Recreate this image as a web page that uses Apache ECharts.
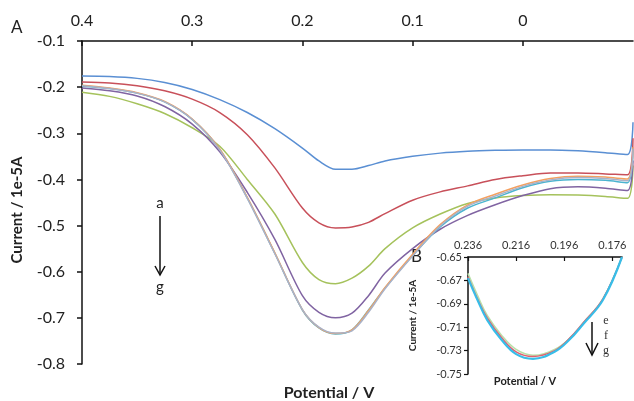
<!DOCTYPE html>
<html>
<head>
<meta charset="utf-8">
<script src="https://cdn.jsdelivr.net/npm/echarts@6/dist/echarts.min.js"></script>
<style>
  html, body { margin: 0; padding: 0; background: #fff; }
  #main { width: 634px; height: 401px; }
</style>
</head>
<body>
<div id="main"></div>
<script>
// main panel A: potential (V) vs current (1e-5 A), curves a..g
var potential = [0.4, 0.375, 0.35, 0.325, 0.3, 0.275, 0.25, 0.225, 0.2, 0.185, 0.17, 0.155, 0.14, 0.125, 0.1, 0.075, 0.05, 0.025, 0, -0.025, -0.05, -0.075, -0.095, -0.1];
var curveA = [-0.176, -0.177, -0.181, -0.190, -0.205, -0.227, -0.255, -0.290, -0.332, -0.360, -0.378, -0.378, -0.370, -0.360, -0.350, -0.343, -0.339, -0.337, -0.336, -0.336, -0.338, -0.342, -0.346, -0.276];
var curveB = [-0.189, -0.191, -0.197, -0.208, -0.226, -0.255, -0.303, -0.375, -0.462, -0.494, -0.505, -0.503, -0.493, -0.474, -0.445, -0.427, -0.414, -0.400, -0.392, -0.386, -0.386, -0.388, -0.390, -0.311];
var curveC = [-0.211, -0.220, -0.236, -0.257, -0.288, -0.328, -0.400, -0.475, -0.580, -0.617, -0.626, -0.614, -0.588, -0.550, -0.505, -0.475, -0.452, -0.440, -0.435, -0.433, -0.434, -0.437, -0.441, -0.370];
var curveD = [-0.202, -0.208, -0.219, -0.242, -0.280, -0.340, -0.428, -0.530, -0.652, -0.688, -0.700, -0.690, -0.652, -0.603, -0.550, -0.508, -0.478, -0.455, -0.435, -0.420, -0.416, -0.419, -0.424, -0.359];
var curveE = [-0.198, -0.203, -0.213, -0.232, -0.270, -0.335, -0.440, -0.560, -0.683, -0.722, -0.735, -0.726, -0.683, -0.635, -0.565, -0.503, -0.462, -0.440, -0.418, -0.404, -0.400, -0.402, -0.407, -0.335];
var curveF = [-0.196, -0.202, -0.212, -0.231, -0.269, -0.334, -0.439, -0.559, -0.682, -0.721, -0.734, -0.726, -0.684, -0.634, -0.562, -0.498, -0.455, -0.432, -0.412, -0.398, -0.393, -0.395, -0.399, -0.330];
var curveG = [-0.197, -0.203, -0.213, -0.232, -0.270, -0.336, -0.441, -0.561, -0.682, -0.720, -0.733, -0.728, -0.688, -0.637, -0.566, -0.501, -0.458, -0.436, -0.415, -0.401, -0.396, -0.398, -0.403, -0.333];

var mainNames = ['a', 'b', 'c', 'd', 'e', 'f', 'g'];
var mainCurves = [curveA, curveB, curveC, curveD, curveE, curveF, curveG];
var mainColors = ['#5a8fd3', '#c8505a', '#a5c25c', '#8064a2', '#4bb4d0', '#f4a060', '#a9b2c8'];

// inset B: zoom of the peak for e, f, g
var insetPotential = [0.236, 0.232, 0.228, 0.222, 0.216, 0.209, 0.2, 0.194, 0.188, 0.18, 0.172];
var insetE = [-0.664, -0.683, -0.700, -0.717, -0.729, -0.734, -0.729, -0.720, -0.706, -0.686, -0.650];
var insetF = [-0.667, -0.686, -0.702, -0.719, -0.731, -0.735, -0.730, -0.720, -0.706, -0.686, -0.650];
var insetG = [-0.668, -0.687, -0.704, -0.721, -0.733, -0.737, -0.731, -0.721, -0.707, -0.687, -0.650];
var insetXTicks = [0.176, 0.196, 0.216, 0.236];
var insetYTicks = [-0.75, -0.73, -0.71, -0.69, -0.67, -0.65];
var insetCurves = [insetE, insetF, insetG];
var insetColors = ['#b8e0a8', '#e06070', '#38bde8'];

function pairs(xs, ys) {
    return xs.map(function (x, i) { return [x, ys[i]]; });
}

var font = 'Lato, "Open Sans", sans-serif';
var series = [];
mainCurves.forEach(function (c, i) {
    series.push({
        name: mainNames[i], type: 'line', xAxisIndex: 0, yAxisIndex: 0,
        data: pairs(potential, c), showSymbol: false, smooth: 0.3,
        lineStyle: { color: mainColors[i], width: 1.5 }, z: 2 + i
    });
});
insetCurves.forEach(function (c, i) {
    series.push({
        type: 'line', xAxisIndex: 1, yAxisIndex: 1,
        data: pairs(insetPotential, c), showSymbol: false, smooth: 0.4,
        lineStyle: { color: insetColors[i], width: i === 2 ? 2.2 : 1.5 }, z: 10 + i
    });
});

var axisLine = { show: true, onZero: false, lineStyle: { color: '#111', width: 1.5 } };

var option = {
    animation: false,
    backgroundColor: '#fff',
    grid: [
        { left: 82, top: 41, width: 551, height: 323 },
        { left: 468, top: 257, width: 154, height: 117 }
    ],
    xAxis: [{
        type: 'value', gridIndex: 0, position: 'top', inverse: true,
        min: -0.1, max: 0.4, interval: 0.1,
        axisLine: axisLine,
        axisTick: { inside: true, length: 5, lineStyle: { color: '#111', width: 1.5 } },
        axisLabel: { showMinLabel: false, margin: 12, fontSize: 16, color: '#222', fontFamily: font,
            formatter: function (v) { return +v.toFixed(1) + ''; } },
        splitLine: { show: false }
    }, {
        type: 'value', gridIndex: 1, position: 'top', inverse: true,
        min: 0.172, max: 0.236,
        axisLine: axisLine,
        axisTick: { inside: true, length: 4, customValues: insetXTicks, lineStyle: { color: '#111', width: 1.2 } },
        axisLabel: { customValues: insetXTicks, margin: 6, fontSize: 11, color: '#333', fontFamily: font,
            formatter: function (v) { return v.toFixed(3); } },
        splitLine: { show: false }
    }],
    yAxis: [{
        type: 'value', gridIndex: 0, min: -0.8, max: -0.1, interval: 0.1,
        axisLine: axisLine,
        axisTick: { show: true, length: 5, lineStyle: { color: '#111', width: 1.5 } },
        axisLabel: { margin: 17, fontSize: 16, color: '#222', fontFamily: font,
            formatter: function (v) { return v.toFixed(1); } },
        splitLine: { show: false }
    }, {
        type: 'value', gridIndex: 1, min: -0.75, max: -0.65,
        axisLine: axisLine,
        axisTick: { show: true, length: 4, customValues: insetYTicks, lineStyle: { color: '#111', width: 1.2 } },
        axisLabel: { customValues: insetYTicks, margin: 6, fontSize: 11, color: '#333', fontFamily: font,
            formatter: function (v) { return v.toFixed(2); } },
        splitLine: { show: false },
        name: 'Current / 1e-5A', nameLocation: 'middle', nameGap: 50, nameRotate: 90,
        nameTextStyle: { fontSize: 10, fontWeight: 'bold', color: '#222', fontFamily: font }
    }],
    graphic: [
        { type: 'text', left: 11, top: 19, style: { text: 'A', fontSize: 17, fill: '#222', fontFamily: font } },
        { type: 'text', left: 411, top: 248, style: { text: 'B', fontSize: 17, fill: '#222', fontFamily: font } },
        { type: 'text', x: 17, y: 210, rotation: Math.PI / 2, style: { text: 'Current / 1e-5A', fontSize: 15, fontWeight: 'bold', fill: '#222', fontFamily: font, align: 'center', verticalAlign: 'middle' } },
        { type: 'text', x: 329, y: 393, style: { text: 'Potential / V', fontSize: 16, fontWeight: 'bold', fill: '#222', fontFamily: font, align: 'center', verticalAlign: 'middle' } },
        { type: 'text', x: 525, y: 381, style: { text: 'Potential / V', fontSize: 11, fontWeight: 'bold', fill: '#222', fontFamily: font, align: 'center', verticalAlign: 'middle' } },
        // a -> g arrow in panel A
        { type: 'text', x: 160, y: 203, style: { text: 'a', fontSize: 15, fill: '#222', fontFamily: font, align: 'center', verticalAlign: 'middle' } },
        { type: 'line', shape: { x1: 160, y1: 216, x2: 160, y2: 275 }, style: { stroke: '#111', lineWidth: 1.5 } },
        { type: 'polyline', shape: { points: [[155, 266], [160, 275], [165, 266]] }, style: { stroke: '#111', lineWidth: 1.5, fill: null } },
        { type: 'text', x: 160, y: 287, style: { text: 'g', fontSize: 15, fill: '#222', fontFamily: font, align: 'center', verticalAlign: 'middle' } },
        // e -> g arrow in inset
        { type: 'line', shape: { x1: 592, y1: 322, x2: 592, y2: 355 }, style: { stroke: '#111', lineWidth: 1.5 } },
        { type: 'polyline', shape: { points: [[586, 343], [592, 355], [598, 343]] }, style: { stroke: '#111', lineWidth: 1.5, fill: null } },
        { type: 'text', x: 606, y: 321, style: { text: 'e', fontSize: 12, fill: '#333', fontFamily: '"Liberation Serif", serif', align: 'center', verticalAlign: 'middle' } },
        { type: 'text', x: 606, y: 336, style: { text: 'f', fontSize: 12, fill: '#333', fontFamily: '"Liberation Serif", serif', align: 'center', verticalAlign: 'middle' } },
        { type: 'text', x: 606, y: 351, style: { text: 'g', fontSize: 12, fill: '#333', fontFamily: '"Liberation Serif", serif', align: 'center', verticalAlign: 'middle' } }
    ],
    series: series
};

var myChart = echarts.init(document.getElementById('main'));
myChart.setOption(option);
</script>
</body>
</html>
